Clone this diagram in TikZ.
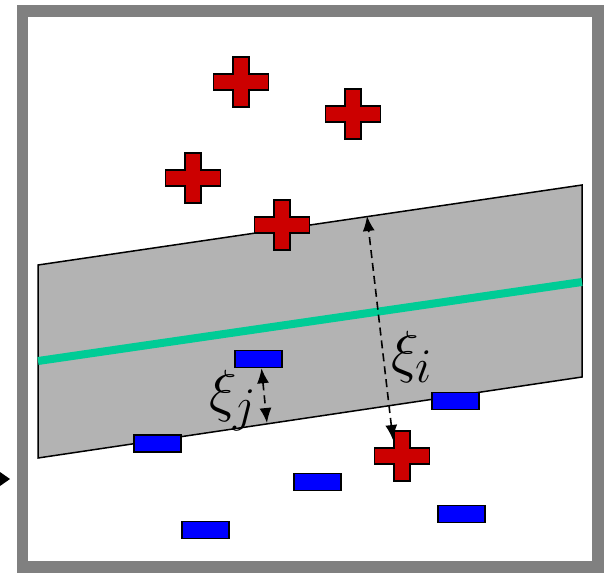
\documentclass[tikz,border=0pt]{standalone}
\usepackage{graphicx}
\usetikzlibrary{arrows.meta}
\definecolor{bandgray}{RGB}{179,179,179}
\definecolor{framegray}{RGB}{128,128,128}
\definecolor{tealline}{RGB}{0,204,150}
\definecolor{plusred}{RGB}{204,0,0}
\definecolor{negblue}{RGB}{0,0,255}
\tikzset{
  frame/.style={draw=framegray, line width=11.5pt},
  band/.style={fill=bandgray, draw=black, line width=1.5pt, line join=miter},
  hyper/.style={draw=tealline, line width=8pt},
  plusmark/.style={fill=plusred, draw=black, line width=1.5pt},
  negbox/.style={rectangle, fill=negblue, draw=black, line width=1.5pt, minimum width=47pt, minimum height=17pt, inner sep=0pt},
  slack/.style={dashed, dash pattern=on 8pt off 5pt, line width=1.6pt, {Latex[length=15pt,width=12pt]}-{Latex[length=15pt,width=12pt]}},
  lab/.style={inner sep=0pt, anchor=base west, font=\Huge}
}
\newcommand\drawplus[1]{%
  \draw[plusmark] (#1) ++(-8,-25) -- ++(16,0) -- ++(0,17) -- ++(19.5,0) -- ++(0,16) -- ++(-19.5,0) -- ++(0,17) -- ++(-16,0) -- ++(0,-17) -- ++(-19.5,0) -- ++(0,-16) -- ++(19.5,0) -- cycle;}
\newcommand\biglab[1]{\scalebox{2.33}{$#1$}}
\begin{document}
\begin{tikzpicture}[x=1pt,y=-1pt]
\useasboundingbox (0,0) rectangle (606,573);
\draw[frame] (22.5,11) rectangle (598,567);
\fill[black] (0,472) -- (10,479) -- (0,486) -- cycle;
% band
\coordinate (tl) at (38,265);
\coordinate (tr) at (582,185);
\coordinate (br) at (582,377);
\coordinate (bl) at (38,458);
\path[band] (tl) -- (tr) -- (br) -- (bl) -- cycle;
\coordinate (hl) at (38,361);
\coordinate (hr) at (582,282);
\draw[hyper] (hl) -- (hr);
% slack arrows
\coordinate (ti) at (367,216);
\coordinate (bi) at (393,440);
\draw[slack] (bi) -- (ti);
% pluses
\coordinate (p1) at (241,82);
\coordinate (p2) at (353,114);
\coordinate (p3) at (193,178);
\coordinate (p4) at (282,225);
\coordinate (p5) at (402,456);
\drawplus{p1}\drawplus{p2}\drawplus{p3}\drawplus{p4}\drawplus{p5}
% negatives
\node[negbox] (n1) at (258.5,359) {};
\node[negbox] (n2) at (157.5,443.5) {};
\node[negbox] (n3) at (455.5,401) {};
\node[negbox] (n4) at (317.5,482) {};
\node[negbox] (n5) at (205.5,530) {};
\node[negbox] (n6) at (461.5,514) {};
\coordinate (bj) at (267,423);
\draw[slack] ([xshift=3pt]n1.south) -- (bj);
% labels
\node[lab] (xii) at (391,371) {\biglab{\xi_i}};
\node[lab] (xij) at (209,410) {\biglab{\xi_j}};
\end{tikzpicture}
\end{document}
